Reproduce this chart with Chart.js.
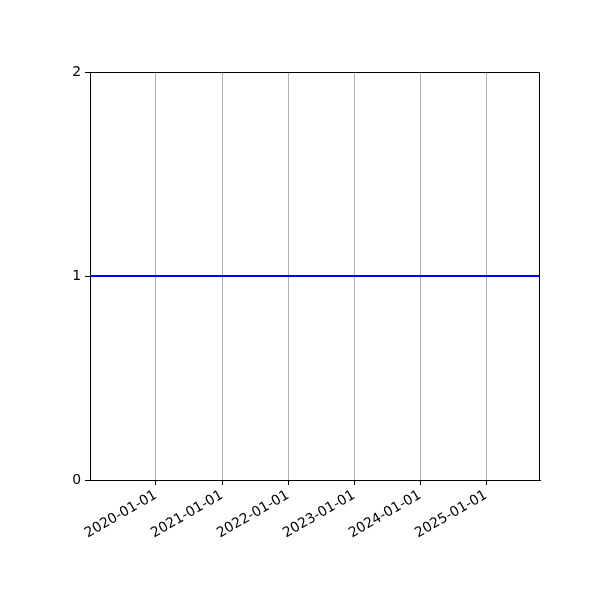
<!DOCTYPE html>
<html>
<head>
<meta charset="utf-8">
<script src="https://cdn.jsdelivr.net/npm/chart.js@4"></script>
<style>
  body { margin: 0; background: #fff; }
  #chart { display: block; }
</style>
</head>
<body>
<canvas id="chart" width="600" height="600"></canvas>
<script>
// data
const lineDates = ['2019-01-01', '2025-10-26'];
const lineValues = [1, 1];
const xTickDates = ['2020-01-01', '2021-01-01', '2022-01-01', '2023-01-01', '2024-01-01', '2025-01-01'];
const yTicks = [0, 1, 2];

const toTime = d => Date.parse(d + 'T00:00:00Z');
const fmtDate = v => new Date(v).toISOString().slice(0, 10);

// top + right spines (left/bottom come from the axes borders)
const frame = {
    id: 'frame',
    afterDraw(chart) {
        const a = chart.chartArea;
        const ctx = chart.ctx;
        const t = Math.round(a.top) + 0.5, r = Math.round(a.right) - 0.5;
        ctx.save();
        ctx.strokeStyle = '#000';
        ctx.lineWidth = 1;
        ctx.beginPath();
        ctx.moveTo(a.left, t);
        ctx.lineTo(r, t);
        ctx.lineTo(r, a.bottom);
        ctx.stroke();
        ctx.restore();
    }
};

const font = { family: 'DejaVu Sans', size: 13.9 };

new Chart(document.getElementById('chart'), {
    type: 'line',
    data: {
        datasets: [{
            data: lineDates.map((d, i) => ({ x: toTime(d), y: lineValues[i] })),
            borderColor: '#0000ff',
            borderWidth: 2,
            pointRadius: 0,
            fill: false
        }]
    },
    options: {
        responsive: false,
        animation: false,
        layout: { padding: { top: 72, right: 60, left: 0, bottom: 0 } },
        plugins: { legend: { display: false }, tooltip: { enabled: false } },
        scales: {
            x: {
                type: 'linear',
                min: toTime(lineDates[0]),
                max: toTime(lineDates[1]),
                afterBuildTicks: s => { s.ticks = xTickDates.map(d => ({ value: toTime(d) })); },
                afterFit: s => { s.height = 120; },
                grid: { color: '#b0b0b0', lineWidth: 1, tickLength: 5, tickColor: '#000', tickWidth: 1 },
                border: { color: '#000', width: 1 },
                ticks: {
                    color: '#000', font: font, padding: 2,
                    minRotation: 30, maxRotation: 30,
                    autoSkip: false,
                    callback: v => fmtDate(v)
                }
            },
            y: {
                min: 0, max: 2,
                afterBuildTicks: s => { s.ticks = yTicks.map(v => ({ value: v })); },
                afterFit: s => { s.width = 90; },
                grid: { drawOnChartArea: false, tickLength: 5, tickColor: '#000' },
                border: { color: '#000', width: 1 },
                ticks: { color: '#000', font: font, padding: 4 }
            }
        }
    },
    plugins: [frame]
});
</script>
</body>
</html>
